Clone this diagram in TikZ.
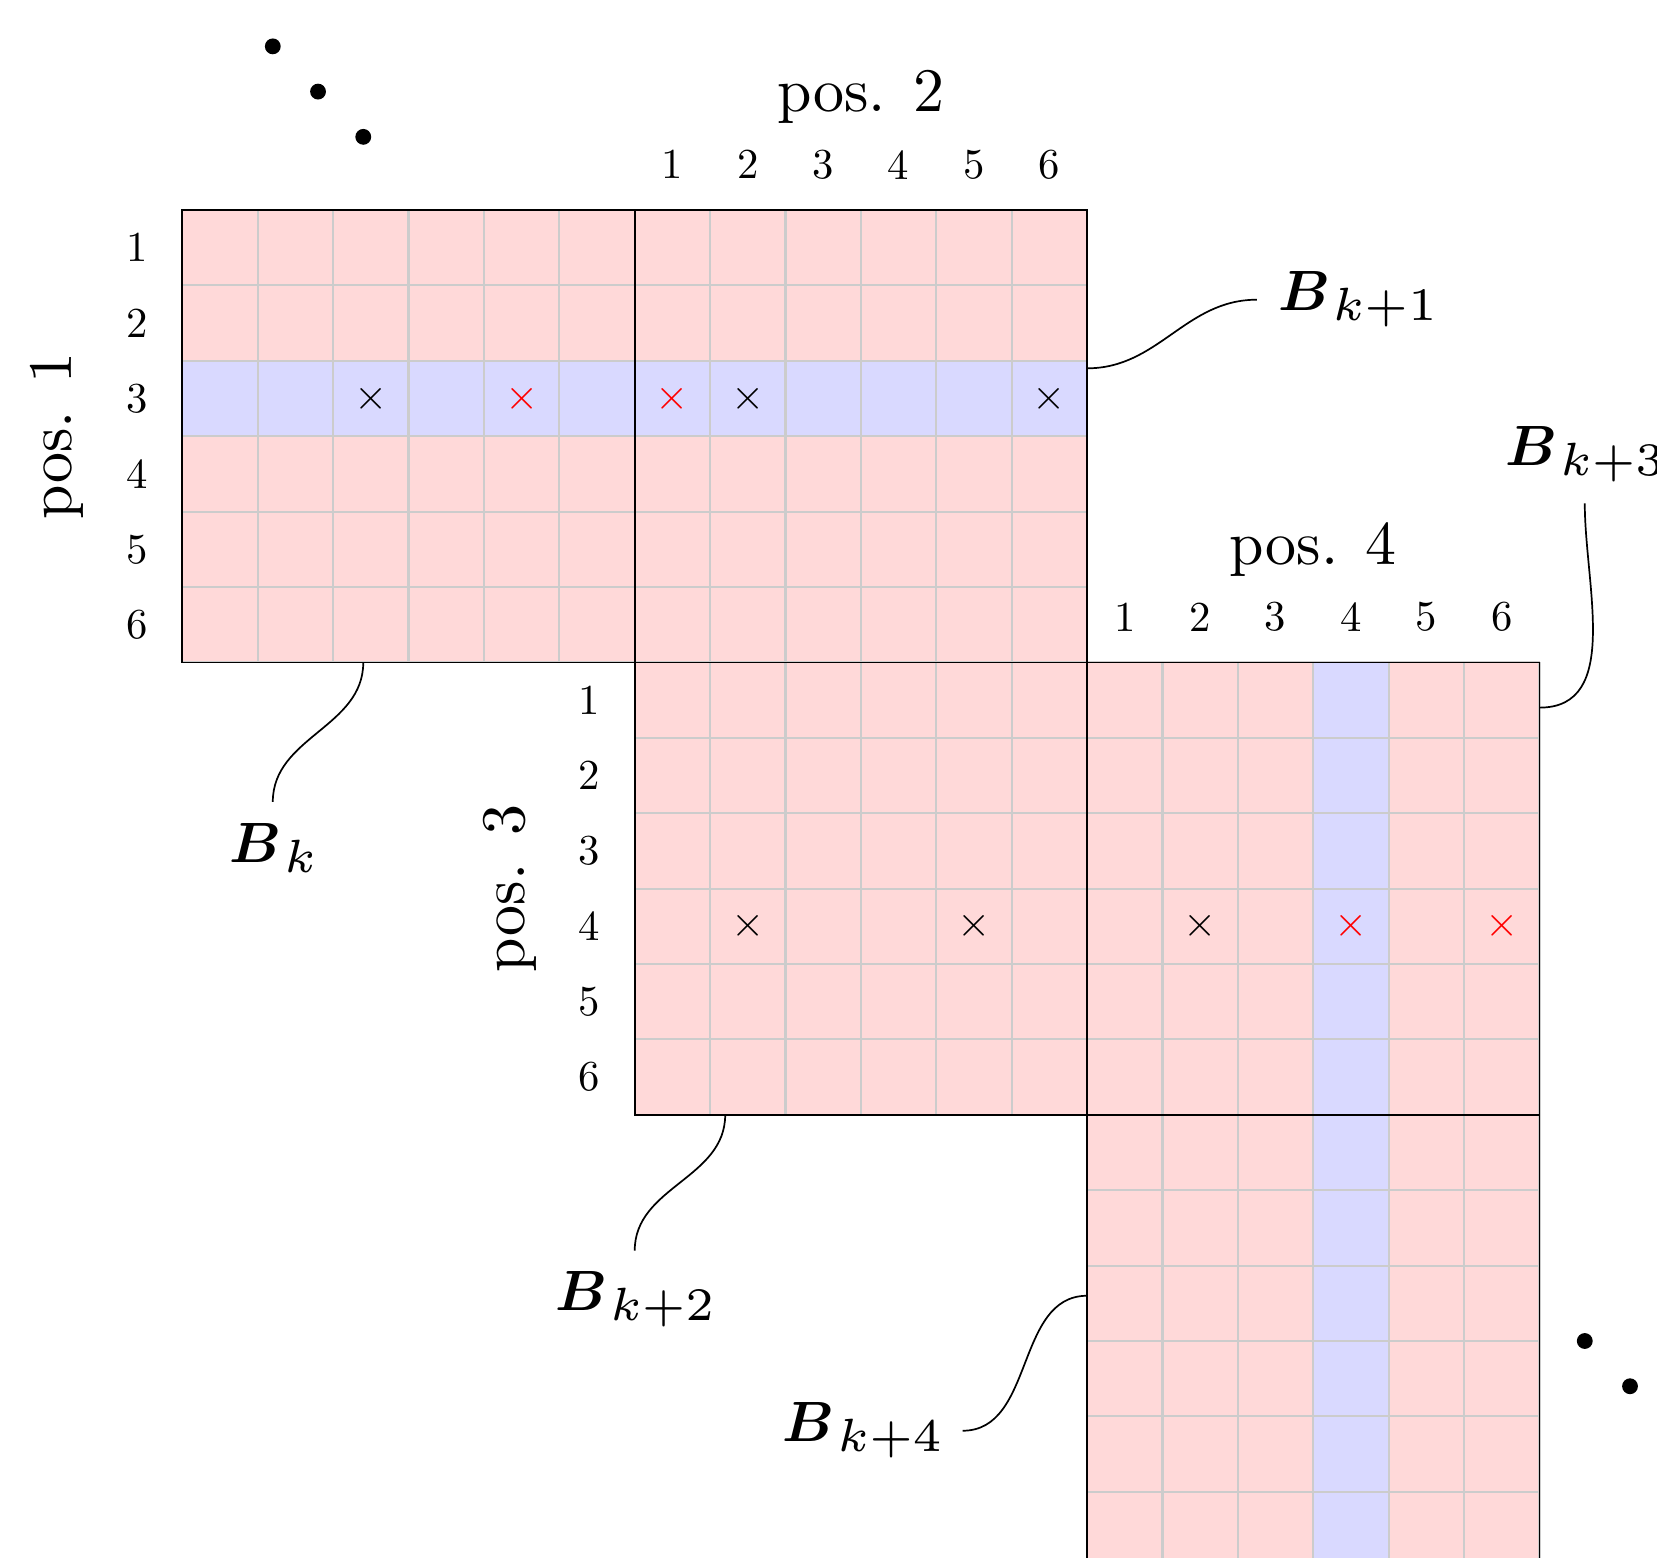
\documentclass[tikz,border=0pt]{standalone}
\usepackage{graphicx}
\usepackage{bm}
\definecolor{cellpink}{RGB}{255,217,217}
\definecolor{cellblue}{RGB}{217,217,255}
\definecolor{gridgray}{RGB}{204,204,204}
\newcommand\blocklbl[1]{\scalebox{0.924}{$\bm{B}$}\kern0.6pt\raisebox{-2.34pt}{\scalebox{1.82}{\fontsize{6}{7}\selectfont$#1$}}}
\begin{document}
\begin{tikzpicture}[x=0.6206cm,y=0.6206cm,
  blockfill/.style={fill=cellpink},
  hlfill/.style={fill=cellblue},
  gridline/.style={draw=gridgray, line width=0.5pt},
  blockborder/.style={draw=black, line width=0.4pt},
  idxlabel/.style={font=\normalsize, inner sep=0pt},
  poslabel/.style={font=\fontsize{10}{12}\selectfont, scale=1.45, transform shape, inner sep=0pt},
  blabel/.style={font=\Large, inner sep=4.8pt},
  leader/.style={draw=black, line width=0.4pt},
  crossblack/.style={inner sep=0pt, text=black},
  crossred/.style={inner sep=0pt, text=red},
  ellipsisdot/.style={fill=black}]
\useasboundingbox (-2.418,-17.878) rectangle (19.558,2.785);
\clip (-2.418,-17.878) rectangle (19.558,2.785);

% block fills
\foreach \bx/\by in {0/0, 6/0, 6/-6, 12/-6, 12/-12}
  \fill[blockfill] (\bx,\by) rectangle ++(6,-6);
% highlighted row and column
\fill[hlfill] (0,-2) rectangle (12,-3);
\fill[hlfill] (15,-6) rectangle (16,-18);
% grids
\foreach \bx/\by in {0/0, 6/0, 6/-6, 12/-6, 12/-12}
  \draw[gridline, step=1] (\bx,\by) grid ++(6,-6);
% block borders
\foreach \bx/\by in {0/0, 6/0, 6/-6, 12/-6, 12/-12}
  \draw[blockborder] (\bx,\by) rectangle ++(6,-6);

% crosses
\node[crossblack] (xa) at (2.5,-2.5) {$\times$};
\node[crossred]   (xb) at (4.5,-2.5) {$\times$};
\node[crossred]   (xc) at (6.5,-2.5) {$\times$};
\node[crossblack] (xd) at (7.5,-2.5) {$\times$};
\node[crossblack] (xe) at (11.5,-2.5) {$\times$};
\node[crossblack] (xf) at (7.5,-9.5) {$\times$};
\node[crossblack] (xg) at (10.5,-9.5) {$\times$};
\node[crossblack] (xh) at (13.5,-9.5) {$\times$};
\node[crossred]   (xi) at (15.5,-9.5) {$\times$};
\node[crossred]   (xj) at (17.5,-9.5) {$\times$};

% index labels
\foreach \i in {1,...,6} {
  \node[idxlabel] (ra\i) at (-0.6,0.5-\i) {\i};
  \node[idxlabel] (cb\i) at (5.5+\i,0.6) {\i};
  \node[idxlabel] (rc\i) at (5.4,-5.5-\i) {\i};
  \node[idxlabel] (cd\i) at (11.5+\i,-5.4) {\i};
}
% position labels
\node[poslabel, rotate=90] (pos1) at (-1.66,-3) {pos. 1};
\node[poslabel] (pos2) at (9,1.5) {pos. 2};
\node[poslabel, rotate=90] (pos3) at (4.34,-9) {pos. 3};
\node[poslabel] (pos4) at (15,-4.5) {pos. 4};

% block labels
\coordinate (cB0) at (2.4,-6);
\coordinate (cB1) at (12,-2.1);
\coordinate (cB2) at (7.2,-12);
\coordinate (cB3) at (18,-6.6);
\coordinate (cB4) at (12,-14.4);
\node[blabel, anchor=north] (B0) at (1.2,-7.85) {\blocklbl{k}};
\node[blabel, anchor=west]  (B1) at (14.25,-1.19) {\blocklbl{k{+}1}};
\node[blabel, anchor=north] (B2) at (6,-13.8) {\blocklbl{k{+}2}};
\node[blabel, anchor=south] (B3) at (18.6,-3.89) {\blocklbl{k{+}3}};
\node[blabel, anchor=east]  (B4) at (10.35,-16.19) {\blocklbl{k{+}4}};
\draw[leader] (cB0) to[out=-90,in=90] (B0.north);
\draw[leader] (cB1) to[out=0,in=180] (B1.west);
\draw[leader] (cB2) to[out=-90,in=90] (B2.north);
\draw[leader] (cB3) to[out=0,in=-90] (B3.south);
\draw[leader] (cB4) to[out=180,in=0] (B4.east);

% ellipsis dots
\fill[ellipsisdot] (1.2,2.17) circle (0.105);
\fill[ellipsisdot] (1.8,1.57) circle (0.105);
\fill[ellipsisdot] (2.4,0.97) circle (0.105);
\fill[ellipsisdot] (18.6,-15) circle (0.105);
\fill[ellipsisdot] (19.2,-15.6) circle (0.105);
\fill[ellipsisdot] (19.8,-16.2) circle (0.105);
\end{tikzpicture}
\end{document}
